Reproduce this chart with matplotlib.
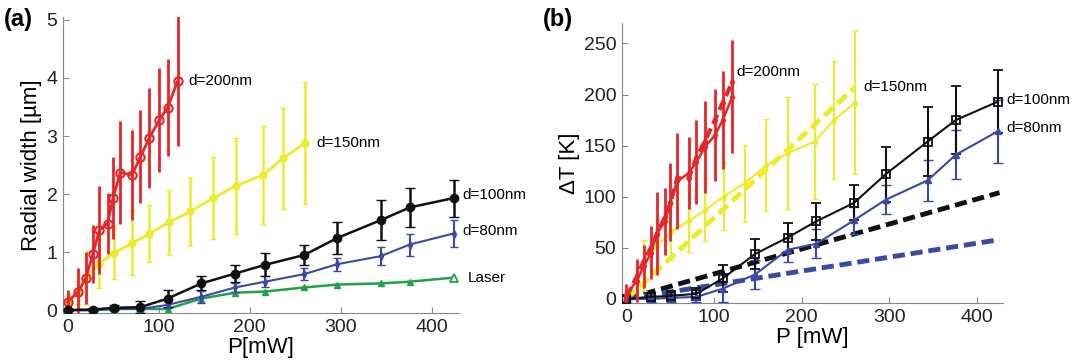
import matplotlib.pyplot as plt
import numpy as np

plt.rcParams['font.family'] = ['Liberation Sans', 'DejaVu Sans']

# ---- panel (a): radial width vs power ----
p200 = [0, 12, 20, 28, 35, 44, 50, 58, 71, 80, 90, 101, 110, 121]
w200 = [0.14, 0.32, 0.55, 0.97, 1.38, 1.49, 1.93, 2.37, 2.33, 2.64, 2.97, 3.28, 3.49, 3.95]
e200 = [0.2, 0.4, 0.45, 0.5, 0.75, 0.52, 0.7, 0.88, 0.78, 0.8, 0.86, 0.9, 0.83, 1.12]

p150 = [0, 12, 20, 35, 51, 71, 90, 111, 135, 160, 185, 215, 237, 261]
w150 = [0.14, 0.3, 0.55, 0.8, 0.99, 1.15, 1.32, 1.51, 1.70, 1.93, 2.14, 2.33, 2.62, 2.88]
e150 = [0.1, 0.2, 0.45, 0.42, 0.45, 0.55, 0.49, 0.56, 0.6, 0.7, 0.82, 0.84, 0.87, 1.05]

p_lo = [0, 28, 51, 80, 110, 147, 184, 217, 260, 296, 344, 376, 424]
w100 = [0.0, 0.01, 0.04, 0.05, 0.2, 0.46, 0.63, 0.78, 0.95, 1.24, 1.55, 1.77, 1.93]
e100 = [0.02, 0.03, 0.04, 0.1, 0.15, 0.12, 0.15, 0.2, 0.18, 0.27, 0.35, 0.34, 0.32]
w80 = [0.0, 0.0, 0.02, 0.02, 0.09, 0.23, 0.39, 0.49, 0.62, 0.79, 0.93, 1.13, 1.32]
e80 = [0.02, 0.02, 0.03, 0.04, 0.06, 0.1, 0.08, 0.09, 0.1, 0.11, 0.16, 0.19, 0.23]
w_laser = [0.0, 0.0, 0.02, 0.02, 0.02, 0.2, 0.3, 0.32, 0.39, 0.44, 0.46, 0.49, 0.56]

# ---- panel (b): temperature rise vs power ----
t200 = [4, 18, 32, 45, 64, 76, 95, 115, 123, 134, 149, 160, 175, 198]
te200 = [11, 21, 21, 26, 41, 33, 38, 47, 35, 41, 45, 45, 48, 55]
t200_fit = [2, 22, 37, 50, 64, 80, 93, 118, 118, 138, 155, 175, 192, 212]

t150 = [2, 18, 33, 52, 66, 76, 87, 100, 113, 131, 143, 154, 175, 192]
te150 = [5, 12, 25, 24, 28, 30, 30, 33, 38, 45, 55, 56, 58, 70]
fit150_p = [0, 261]
fit150_t = [0, 207]

t100 = [0, 2, 3, 5, 20, 44, 60, 76, 94, 122, 154, 175, 193]
te100 = [3, 4, 5, 6, 13, 15, 14, 18, 17, 27, 34, 33, 31]
fit100_p = [0, 426]
fit100_t = [0, 104]

t80 = [0, 0, 1, 2, 10, 24, 48, 54, 77, 97, 116, 141, 164]
te80 = [3, 3, 4, 5, 13, 14, 12, 14, 13, 14, 20, 24, 31]
fit80_p = [0, 426]
fit80_t = [0, 58]

RED = '#e5262b'
YEL = '#ecec2c'
BLK = '#111111'
BLU = '#3a48a6'
GRN = '#22a04a'

fig = plt.figure(figsize=(10.8, 3.63), dpi=100)
ax1 = fig.add_axes([0.0583, 0.1377, 0.3667, 0.8154])
ax2 = fig.add_axes([0.5759, 0.1653, 0.3528, 0.7713])

# panel (a)
ax1.errorbar(p150, w150, yerr=e150, color=YEL, lw=2, elinewidth=1.8, capsize=2,
             marker='o', ms=5, zorder=2)
ax1.errorbar(p200, w200, yerr=e200, color=RED, lw=2, elinewidth=2, capsize=0,
             marker='o', ms=6, mfc='none', mew=1.5, zorder=3)
ax1.plot(p_lo, w_laser, color=GRN, lw=1.8, marker='^', ms=5, zorder=2)
ax1.plot(p_lo[-1:], w_laser[-1:], color=GRN, lw=0, marker='^', ms=6, mfc='white', mew=1.3, zorder=4)
ax1.errorbar(p_lo, w80, yerr=e80, color=BLU, lw=1.5, elinewidth=1.5, capsize=3,
             marker='d', ms=4, zorder=3)
ax1.errorbar(p_lo, w100, yerr=e100, color=BLK, lw=1.8, elinewidth=1.8, capsize=3.5,
             marker='o', ms=6, zorder=3)

ax1.text(p200[-1] + 12, w200[-1], 'd=200nm', fontsize=11, va='center')
ax1.text(p150[-1] + 12, w150[-1], 'd=150nm', fontsize=11, va='center')
ax1.text(p_lo[-1] + 10, w100[-1] + 0.05, 'd=100nm', fontsize=11, va='center')
ax1.text(p_lo[-1] + 10, w80[-1] + 0.05, 'd=80nm', fontsize=11, va='center')
ax1.text(p_lo[-1] + 16, w_laser[-1], 'Laser', fontsize=11, va='center')

ax1.set_xlim(-5, 430)
ax1.set_ylim(-0.05, 5.05)
ax1.set_xticks([0, 100, 200, 300, 400])
ax1.set_yticks([0, 1, 2, 3, 4, 5])
ax1.set_xlabel('P[mW]', fontsize=16, labelpad=1)
ax1.set_ylabel('Radial width [µm]', fontsize=16, labelpad=3)
fig.text(0.004, 0.945, '(a)', fontsize=17, fontweight='bold', va='center')

# panel (b)
ax2.plot(fit100_p, fit100_t, color=BLK, lw=3.5, ls=(0, (2.5, 1.2)), zorder=2)
ax2.plot(fit80_p, fit80_t, color=BLU, lw=3.5, ls=(0, (2.5, 1.2)), zorder=2)
ax2.plot(fit150_p, fit150_t, color=YEL, lw=3.5, ls=(0, (2.5, 1.2)), zorder=2)
ax2.errorbar(p150, t150, yerr=te150, color=YEL, lw=1.5, elinewidth=1.5, capsize=2,
             marker='d', ms=4, zorder=3)
ax2.errorbar(p_lo, t80, yerr=te80, color=BLU, lw=1.5, elinewidth=1.5, capsize=3.5,
             marker='^', ms=5, zorder=3)
ax2.errorbar(p_lo, t100, yerr=te100, color=BLK, lw=1.5, elinewidth=1.5, capsize=3.5,
             marker='s', ms=5.5, mfc='none', mew=1.3, zorder=3)
ax2.errorbar(p200, t200, yerr=te200, color=RED, lw=1.8, elinewidth=2, capsize=0,
             marker='d', ms=4, zorder=4)
ax2.plot(p200, t200_fit, color=RED, lw=3, ls=(0, (2.5, 1.2)), marker='d', ms=4, zorder=4)

ax2.text(p200[-1] + 5, 222, 'd=200nm', fontsize=11, va='center')
ax2.text(p150[-1] + 10, 207, 'd=150nm', fontsize=11, va='center')
ax2.text(p_lo[-1] + 10, t100[-1] + 2, 'd=100nm', fontsize=11, va='center')
ax2.text(p_lo[-1] + 10, t80[-1] + 3, 'd=80nm', fontsize=11, va='center')

ax2.set_xlim(-5, 430)
ax2.set_ylim(-4, 270)
ax2.set_xticks([0, 100, 200, 300, 400])
ax2.set_yticks([0, 50, 100, 150, 200, 250])
ax2.set_xlabel('P [mW]', fontsize=16, labelpad=1)
ax2.set_ylabel('ΔT [K]', fontsize=16, labelpad=3)
fig.text(0.503, 0.945, '(b)', fontsize=17, fontweight='bold', va='center')

for ax in (ax1, ax2):
    ax.spines['top'].set_visible(False)
    ax.spines['right'].set_visible(False)
    ax.spines['left'].set_color('#888888')
    ax.spines['bottom'].set_color('#888888')
    ax.tick_params(direction='in', length=4, color='#888888', labelsize=14, pad=4)
    for lbl in ax.get_xticklabels() + ax.get_yticklabels():
        lbl.set_color('#222222')

fig.savefig('out.png', dpi=100)
